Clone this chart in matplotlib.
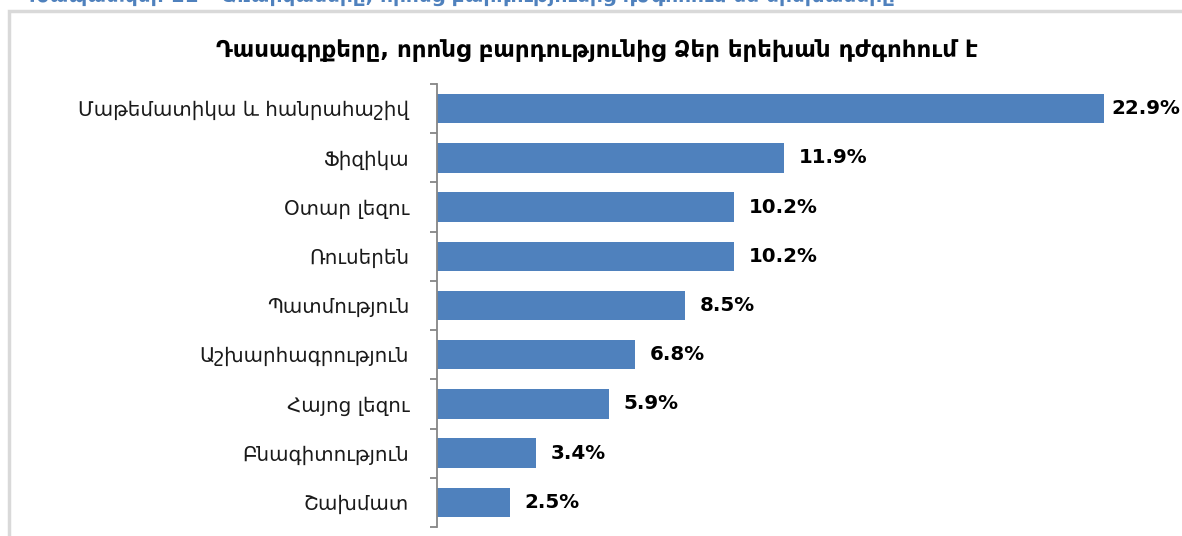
import matplotlib
matplotlib.use("Agg")
import matplotlib.pyplot as plt
from matplotlib.patches import Rectangle

categories = ["Մաթեմատիկա և հանրահաշիվ", "Ֆիզիկա", "Օտար լեզու", "Ռուսերեն",
              "Պատմություն", "Աշխարհագրություն", "Հայոց լեզու", "Բնագիտություն", "Շախմատ"]
values = [22.9, 11.9, 10.2, 10.2, 8.5, 6.8, 5.9, 3.4, 2.5]
value_labels = ["22.9%", "11.9%", "10.2%", "10.2%", "8.5%", "6.8%", "5.9%", "3.4%", "2.5%"]
title = "Դասագրքերը, որոնց բարդությունից Ձեր երեխան դժգոհում է"
caption = "Գծապատկեր 11 - Առարկաները, որոնց բարդությունից դժգոհում են երեխաները"

plt.rcParams['font.family'] = ['DejaVu Sans']
W, H = 1182, 536
fig = plt.figure(figsize=(W / 100, H / 100), dpi=100)

# outer frame
fig.patches.append(Rectangle((9 / W, -0.05), 1.2, 1 - 11 / H + 0.05, transform=fig.transFigure,
                             fill=False, edgecolor="#d9d9d9", linewidth=2.5))
# caption of the figure, mostly above the visible area
fig.text(22 / W, 1 - 1.5 / H, caption, color="#4f81bd", fontsize=14.5, fontweight="bold",
         ha="left", va="baseline")

ax = fig.add_axes([437 / W, 1 - 527 / H, (1170 - 437) / W, (527 - 84) / H])
n = len(categories)
ypos = list(range(n))
ax.barh(ypos, values, height=0.6, color="#4f81bd")
ax.set_ylim(n - 0.5, -0.5)
ax.set_xlim(0, (1170 - 437) / ((1104 - 437) / 22.9))
ax.set_yticks(ypos)
ax.set_yticklabels(categories, fontsize=14.3, color="#1a1a1a")
ax.tick_params(axis="y", which="major", length=0, pad=20)
ax.set_yticks([i - 0.5 for i in range(n + 1)], minor=True)
ax.tick_params(axis="y", which="minor", length=5, width=1.3, color="#868686", direction="out")
ax.set_xticks([])
for s in ["top", "right", "bottom"]:
    ax.spines[s].set_visible(False)
ax.spines["left"].set_color("#868686")
ax.spines["left"].set_linewidth(1.3)

vmax = max(values)
for y, v, lab in zip(ypos, values, value_labels):
    off = 7 if v == vmax else 15
    ax.annotate(lab, (v, y), xytext=(off * 0.72, 0), textcoords="offset points",
                va="center", ha="left", fontsize=14.3, fontweight="bold", color="#000000")

fig.text(597 / W, 1 - 50 / H, title, ha="center", va="center", fontsize=16.5,
         fontweight="bold", color="#000000")

fig.savefig("out.png", dpi=100)
